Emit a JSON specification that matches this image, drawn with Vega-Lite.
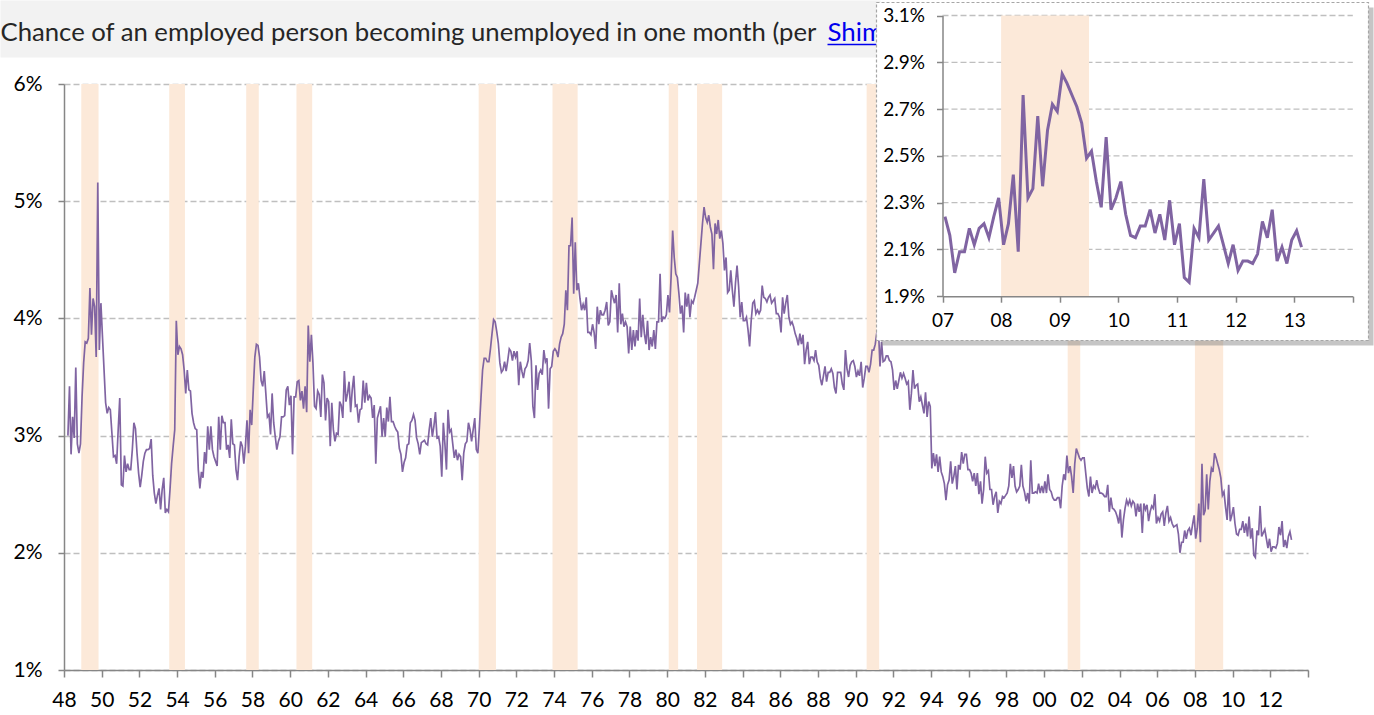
{
"$schema": "https://vega.github.io/schema/vega-lite/v6.json",
"background": "white",
"padding": 0,
"width": 1244,
"height": 586,
"config": {
  "view": {"stroke": null},
  "font": "Lato",
  "axis": {"labelFont": "Lato", "labelColor": "#000000", "domainColor": "#868686", "tickColor": "#868686", "domainWidth": 1.5, "tickWidth": 1.5, "labelFontWeight": "normal"}
},
"datasets": {
"rec": [{"s":1948.917,"e":1949.833},{"s":1953.583,"e":1954.417},{"s":1957.667,"e":1958.333},{"s":1960.333,"e":1961.167},{"s":1970.0,"e":1970.917},{"s":1973.917,"e":1975.25},{"s":1980.083,"e":1980.583},{"s":1981.583,"e":1982.917},{"s":1990.583,"e":1991.25},{"s":2001.25,"e":2001.917},{"s":2008.0,"e":2009.5}],
"u": [
{"t":1948.208,"v":3.00},{"t":1948.292,"v":3.42},{"t":1948.375,"v":2.84},{"t":1948.458,"v":3.16},{"t":1948.542,"v":2.98},{"t":1948.625,"v":3.58},{"t":1948.708,"v":2.93},{"t":1948.792,"v":2.85},{"t":1948.875,"v":2.93},{"t":1948.958,"v":3.33},
{"t":1949.042,"v":3.62},{"t":1949.125,"v":3.80},{"t":1949.208,"v":3.79},{"t":1949.292,"v":3.83},{"t":1949.375,"v":4.26},{"t":1949.458,"v":3.86},{"t":1949.542,"v":4.17},{"t":1949.625,"v":4.10},{"t":1949.708,"v":3.67},{"t":1949.792,"v":5.16},{"t":1949.875,"v":3.73},{"t":1949.958,"v":4.13},
{"t":1950.042,"v":3.84},{"t":1950.125,"v":3.56},{"t":1950.208,"v":3.28},{"t":1950.292,"v":3.19},{"t":1950.375,"v":3.24},{"t":1950.458,"v":3.22},{"t":1950.542,"v":3.02},{"t":1950.625,"v":2.82},{"t":1950.708,"v":2.83},{"t":1950.792,"v":2.76},{"t":1950.875,"v":3.05},{"t":1950.958,"v":3.32},
{"t":1951.042,"v":2.58},{"t":1951.125,"v":2.57},{"t":1951.208,"v":2.83},{"t":1951.292,"v":2.69},{"t":1951.375,"v":2.76},{"t":1951.458,"v":2.71},{"t":1951.542,"v":2.71},{"t":1951.625,"v":2.88},{"t":1951.708,"v":3.11},{"t":1951.792,"v":3.06},{"t":1951.875,"v":2.85},{"t":1951.958,"v":2.68},
{"t":1952.042,"v":2.56},{"t":1952.125,"v":2.66},{"t":1952.208,"v":2.78},{"t":1952.292,"v":2.85},{"t":1952.375,"v":2.88},{"t":1952.458,"v":2.88},{"t":1952.542,"v":2.89},{"t":1952.625,"v":2.97},{"t":1952.708,"v":2.66},{"t":1952.792,"v":2.51},{"t":1952.875,"v":2.42},{"t":1952.958,"v":2.49},
{"t":1953.042,"v":2.55},{"t":1953.125,"v":2.37},{"t":1953.208,"v":2.54},{"t":1953.292,"v":2.64},{"t":1953.375,"v":2.34},{"t":1953.458,"v":2.37},{"t":1953.542,"v":2.35},{"t":1953.625,"v":2.54},{"t":1953.708,"v":2.76},{"t":1953.792,"v":2.91},{"t":1953.875,"v":3.05},{"t":1953.958,"v":3.98},
{"t":1954.042,"v":3.69},{"t":1954.125,"v":3.76},{"t":1954.208,"v":3.74},{"t":1954.292,"v":3.69},{"t":1954.375,"v":3.56},{"t":1954.458,"v":3.36},{"t":1954.542,"v":3.56},{"t":1954.625,"v":3.39},{"t":1954.708,"v":3.38},{"t":1954.792,"v":3.19},{"t":1954.875,"v":3.11},{"t":1954.958,"v":3.06},
{"t":1955.042,"v":3.05},{"t":1955.125,"v":2.71},{"t":1955.208,"v":2.55},{"t":1955.292,"v":2.69},{"t":1955.375,"v":2.64},{"t":1955.458,"v":2.86},{"t":1955.542,"v":2.76},{"t":1955.625,"v":3.08},{"t":1955.708,"v":2.88},{"t":1955.792,"v":3.08},{"t":1955.875,"v":2.88},{"t":1955.958,"v":2.82},
{"t":1956.042,"v":2.78},{"t":1956.125,"v":2.74},{"t":1956.208,"v":3.16},{"t":1956.292,"v":2.88},{"t":1956.375,"v":3.17},{"t":1956.458,"v":3.11},{"t":1956.542,"v":3.11},{"t":1956.625,"v":2.88},{"t":1956.708,"v":2.92},{"t":1956.792,"v":2.81},{"t":1956.875,"v":3.14},{"t":1956.958,"v":2.93},
{"t":1957.042,"v":2.92},{"t":1957.125,"v":2.71},{"t":1957.208,"v":2.62},{"t":1957.292,"v":2.82},{"t":1957.375,"v":2.95},{"t":1957.458,"v":2.91},{"t":1957.542,"v":2.76},{"t":1957.625,"v":2.91},{"t":1957.708,"v":3.13},{"t":1957.792,"v":2.85},{"t":1957.875,"v":3.22},{"t":1957.958,"v":3.09},
{"t":1958.042,"v":3.39},{"t":1958.125,"v":3.67},{"t":1958.208,"v":3.78},{"t":1958.292,"v":3.77},{"t":1958.375,"v":3.67},{"t":1958.458,"v":3.47},{"t":1958.542,"v":3.42},{"t":1958.625,"v":3.55},{"t":1958.708,"v":3.36},{"t":1958.792,"v":3.16},{"t":1958.875,"v":3.18},{"t":1958.958,"v":3.01},
{"t":1959.042,"v":3.36},{"t":1959.125,"v":3.11},{"t":1959.208,"v":2.99},{"t":1959.292,"v":2.88},{"t":1959.375,"v":2.95},{"t":1959.458,"v":2.99},{"t":1959.542,"v":3.16},{"t":1959.625,"v":3.16},{"t":1959.708,"v":3.17},{"t":1959.792,"v":3.39},{"t":1959.875,"v":3.42},{"t":1959.958,"v":3.26},
{"t":1960.042,"v":3.34},{"t":1960.125,"v":2.84},{"t":1960.208,"v":3.33},{"t":1960.292,"v":3.33},{"t":1960.375,"v":3.46},{"t":1960.458,"v":3.47},{"t":1960.542,"v":3.30},{"t":1960.625,"v":3.38},{"t":1960.708,"v":3.23},{"t":1960.792,"v":3.42},{"t":1960.875,"v":3.20},{"t":1960.958,"v":3.94},
{"t":1961.042,"v":3.63},{"t":1961.125,"v":3.86},{"t":1961.208,"v":3.62},{"t":1961.292,"v":3.25},{"t":1961.375,"v":3.23},{"t":1961.458,"v":3.38},{"t":1961.542,"v":3.35},{"t":1961.625,"v":3.16},{"t":1961.708,"v":3.52},{"t":1961.792,"v":3.45},{"t":1961.875,"v":3.13},{"t":1961.958,"v":3.32},
{"t":1962.042,"v":3.29},{"t":1962.125,"v":2.91},{"t":1962.208,"v":3.28},{"t":1962.292,"v":3.05},{"t":1962.375,"v":2.95},{"t":1962.458,"v":3.02},{"t":1962.542,"v":3.01},{"t":1962.625,"v":3.29},{"t":1962.708,"v":3.26},{"t":1962.792,"v":3.15},{"t":1962.875,"v":3.55},{"t":1962.958,"v":3.29},
{"t":1963.042,"v":3.36},{"t":1963.125,"v":3.46},{"t":1963.208,"v":3.20},{"t":1963.292,"v":3.39},{"t":1963.375,"v":3.51},{"t":1963.458,"v":3.25},{"t":1963.542,"v":3.26},{"t":1963.625,"v":3.11},{"t":1963.708,"v":3.22},{"t":1963.792,"v":3.23},{"t":1963.875,"v":3.47},{"t":1963.958,"v":3.28},
{"t":1964.042,"v":3.45},{"t":1964.125,"v":3.30},{"t":1964.208,"v":3.34},{"t":1964.292,"v":3.32},{"t":1964.375,"v":3.15},{"t":1964.458,"v":3.26},{"t":1964.542,"v":2.76},{"t":1964.625,"v":3.15},{"t":1964.708,"v":3.20},{"t":1964.792,"v":3.25},{"t":1964.875,"v":2.99},{"t":1964.958,"v":3.15},
{"t":1965.042,"v":2.99},{"t":1965.125,"v":3.24},{"t":1965.208,"v":3.12},{"t":1965.292,"v":3.33},{"t":1965.375,"v":3.12},{"t":1965.458,"v":3.12},{"t":1965.542,"v":3.08},{"t":1965.625,"v":3.05},{"t":1965.708,"v":3.03},{"t":1965.792,"v":2.89},{"t":1965.875,"v":2.84},{"t":1965.958,"v":2.69},
{"t":1966.042,"v":2.77},{"t":1966.125,"v":2.81},{"t":1966.208,"v":2.92},{"t":1966.292,"v":2.93},{"t":1966.375,"v":3.11},{"t":1966.458,"v":3.13},{"t":1966.542,"v":3.18},{"t":1966.625,"v":3.13},{"t":1966.708,"v":2.98},{"t":1966.792,"v":2.93},{"t":1966.875,"v":2.84},{"t":1966.958,"v":2.94},
{"t":1967.042,"v":2.95},{"t":1967.125,"v":2.96},{"t":1967.208,"v":2.93},{"t":1967.292,"v":2.92},{"t":1967.375,"v":3.05},{"t":1967.458,"v":3.15},{"t":1967.542,"v":2.99},{"t":1967.625,"v":3.08},{"t":1967.708,"v":3.20},{"t":1967.792,"v":2.98},{"t":1967.875,"v":2.99},{"t":1967.958,"v":2.91},
{"t":1968.042,"v":2.65},{"t":1968.125,"v":3.11},{"t":1968.208,"v":2.93},{"t":1968.292,"v":2.71},{"t":1968.375,"v":3.22},{"t":1968.458,"v":3.03},{"t":1968.542,"v":3.05},{"t":1968.625,"v":2.93},{"t":1968.708,"v":2.81},{"t":1968.792,"v":2.88},{"t":1968.875,"v":2.79},{"t":1968.958,"v":2.84},
{"t":1969.042,"v":2.82},{"t":1969.125,"v":2.62},{"t":1969.208,"v":2.85},{"t":1969.292,"v":2.93},{"t":1969.375,"v":2.95},{"t":1969.458,"v":3.11},{"t":1969.542,"v":3.05},{"t":1969.625,"v":2.95},{"t":1969.708,"v":3.05},{"t":1969.792,"v":3.15},{"t":1969.875,"v":2.88},{"t":1969.958,"v":2.85},
{"t":1970.042,"v":3.08},{"t":1970.125,"v":3.33},{"t":1970.208,"v":3.56},{"t":1970.292,"v":3.66},{"t":1970.375,"v":3.66},{"t":1970.458,"v":3.63},{"t":1970.542,"v":3.63},{"t":1970.625,"v":3.74},{"t":1970.708,"v":3.87},{"t":1970.792,"v":3.99},{"t":1970.875,"v":3.97},{"t":1970.958,"v":3.89},
{"t":1971.042,"v":3.79},{"t":1971.125,"v":3.62},{"t":1971.208,"v":3.54},{"t":1971.292,"v":3.56},{"t":1971.375,"v":3.63},{"t":1971.458,"v":3.55},{"t":1971.542,"v":3.64},{"t":1971.625,"v":3.74},{"t":1971.708,"v":3.72},{"t":1971.792,"v":3.64},{"t":1971.875,"v":3.72},{"t":1971.958,"v":3.67},
{"t":1972.042,"v":3.72},{"t":1972.125,"v":3.43},{"t":1972.208,"v":3.63},{"t":1972.292,"v":3.55},{"t":1972.375,"v":3.49},{"t":1972.458,"v":3.57},{"t":1972.542,"v":3.59},{"t":1972.625,"v":3.64},{"t":1972.708,"v":3.79},{"t":1972.792,"v":3.64},{"t":1972.875,"v":3.25},{"t":1972.958,"v":3.15},
{"t":1973.042,"v":3.60},{"t":1973.125,"v":3.39},{"t":1973.208,"v":3.53},{"t":1973.292,"v":3.56},{"t":1973.375,"v":3.52},{"t":1973.458,"v":3.73},{"t":1973.542,"v":3.63},{"t":1973.625,"v":3.66},{"t":1973.708,"v":3.23},{"t":1973.792,"v":3.57},{"t":1973.875,"v":3.59},{"t":1973.958,"v":3.72},
{"t":1974.042,"v":3.74},{"t":1974.125,"v":3.72},{"t":1974.208,"v":3.67},{"t":1974.292,"v":3.78},{"t":1974.375,"v":3.84},{"t":1974.458,"v":3.87},{"t":1974.542,"v":3.95},{"t":1974.625,"v":4.24},{"t":1974.708,"v":4.07},{"t":1974.792,"v":4.62},{"t":1974.875,"v":4.62},{"t":1974.958,"v":4.86},
{"t":1975.042,"v":4.21},{"t":1975.125,"v":4.65},{"t":1975.208,"v":4.24},{"t":1975.292,"v":4.30},{"t":1975.375,"v":4.17},{"t":1975.458,"v":4.07},{"t":1975.542,"v":4.12},{"t":1975.625,"v":4.07},{"t":1975.708,"v":4.18},{"t":1975.792,"v":3.88},{"t":1975.875,"v":3.88},{"t":1975.958,"v":3.86},
{"t":1976.042,"v":3.95},{"t":1976.125,"v":3.88},{"t":1976.208,"v":3.74},{"t":1976.292,"v":4.10},{"t":1976.375,"v":3.95},{"t":1976.458,"v":4.07},{"t":1976.542,"v":4.03},{"t":1976.625,"v":4.03},{"t":1976.708,"v":4.07},{"t":1976.792,"v":4.14},{"t":1976.875,"v":3.94},{"t":1976.958,"v":3.97},
{"t":1977.042,"v":4.24},{"t":1977.125,"v":4.18},{"t":1977.208,"v":4.13},{"t":1977.292,"v":4.20},{"t":1977.375,"v":3.88},{"t":1977.458,"v":4.30},{"t":1977.542,"v":3.95},{"t":1977.625,"v":4.04},{"t":1977.708,"v":3.93},{"t":1977.792,"v":3.97},{"t":1977.875,"v":3.93},{"t":1977.958,"v":3.70},
{"t":1978.042,"v":3.93},{"t":1978.125,"v":3.73},{"t":1978.208,"v":3.90},{"t":1978.292,"v":3.76},{"t":1978.375,"v":3.90},{"t":1978.458,"v":3.81},{"t":1978.542,"v":4.17},{"t":1978.625,"v":3.84},{"t":1978.708,"v":4.03},{"t":1978.792,"v":3.87},{"t":1978.875,"v":3.78},{"t":1978.958,"v":3.98},
{"t":1979.042,"v":3.73},{"t":1979.125,"v":3.84},{"t":1979.208,"v":3.76},{"t":1979.292,"v":3.90},{"t":1979.375,"v":3.74},{"t":1979.458,"v":3.97},{"t":1979.542,"v":3.97},{"t":1979.625,"v":4.38},{"t":1979.708,"v":3.97},{"t":1979.792,"v":4.01},{"t":1979.875,"v":4.00},{"t":1979.958,"v":4.03},
{"t":1980.042,"v":4.20},{"t":1980.125,"v":4.05},{"t":1980.208,"v":4.35},{"t":1980.292,"v":4.75},{"t":1980.375,"v":4.52},{"t":1980.458,"v":4.38},{"t":1980.542,"v":4.35},{"t":1980.625,"v":4.21},{"t":1980.708,"v":4.04},{"t":1980.792,"v":4.11},{"t":1980.875,"v":3.88},{"t":1980.958,"v":4.22},
{"t":1981.042,"v":4.10},{"t":1981.125,"v":4.21},{"t":1981.208,"v":4.01},{"t":1981.292,"v":4.15},{"t":1981.375,"v":4.13},{"t":1981.458,"v":4.18},{"t":1981.542,"v":4.24},{"t":1981.625,"v":4.30},{"t":1981.708,"v":4.47},{"t":1981.792,"v":4.64},{"t":1981.875,"v":4.81},{"t":1981.958,"v":4.95},
{"t":1982.042,"v":4.86},{"t":1982.125,"v":4.82},{"t":1982.208,"v":4.88},{"t":1982.292,"v":4.78},{"t":1982.375,"v":4.72},{"t":1982.458,"v":4.42},{"t":1982.542,"v":4.81},{"t":1982.625,"v":4.72},{"t":1982.708,"v":4.84},{"t":1982.792,"v":4.68},{"t":1982.875,"v":4.75},{"t":1982.958,"v":4.64},
{"t":1983.042,"v":4.41},{"t":1983.125,"v":4.52},{"t":1983.208,"v":4.22},{"t":1983.292,"v":4.24},{"t":1983.375,"v":4.41},{"t":1983.458,"v":4.24},{"t":1983.542,"v":4.10},{"t":1983.625,"v":4.30},{"t":1983.708,"v":4.45},{"t":1983.792,"v":4.27},{"t":1983.875,"v":4.01},{"t":1983.958,"v":4.14},
{"t":1984.042,"v":3.98},{"t":1984.125,"v":3.98},{"t":1984.208,"v":4.01},{"t":1984.292,"v":3.90},{"t":1984.375,"v":3.76},{"t":1984.458,"v":3.98},{"t":1984.542,"v":4.13},{"t":1984.625,"v":4.15},{"t":1984.708,"v":4.04},{"t":1984.792,"v":4.07},{"t":1984.875,"v":4.04},{"t":1984.958,"v":4.07},
{"t":1985.042,"v":4.28},{"t":1985.125,"v":4.18},{"t":1985.208,"v":4.17},{"t":1985.292,"v":4.14},{"t":1985.375,"v":4.18},{"t":1985.458,"v":4.20},{"t":1985.542,"v":4.13},{"t":1985.625,"v":4.15},{"t":1985.708,"v":4.17},{"t":1985.792,"v":4.04},{"t":1985.875,"v":4.04},{"t":1985.958,"v":4.01},
{"t":1986.042,"v":3.88},{"t":1986.125,"v":4.18},{"t":1986.208,"v":4.04},{"t":1986.292,"v":4.13},{"t":1986.375,"v":4.20},{"t":1986.458,"v":4.01},{"t":1986.542,"v":3.95},{"t":1986.625,"v":3.97},{"t":1986.708,"v":3.93},{"t":1986.792,"v":3.87},{"t":1986.875,"v":3.83},{"t":1986.958,"v":3.77},
{"t":1987.042,"v":3.87},{"t":1987.125,"v":3.78},{"t":1987.208,"v":3.86},{"t":1987.292,"v":3.61},{"t":1987.375,"v":3.73},{"t":1987.458,"v":3.80},{"t":1987.542,"v":3.61},{"t":1987.625,"v":3.67},{"t":1987.708,"v":3.67},{"t":1987.792,"v":3.64},{"t":1987.875,"v":3.73},{"t":1987.958,"v":3.63},
{"t":1988.042,"v":3.60},{"t":1988.125,"v":3.49},{"t":1988.208,"v":3.43},{"t":1988.292,"v":3.51},{"t":1988.375,"v":3.59},{"t":1988.458,"v":3.46},{"t":1988.542,"v":3.54},{"t":1988.625,"v":3.54},{"t":1988.708,"v":3.57},{"t":1988.792,"v":3.53},{"t":1988.875,"v":3.41},{"t":1988.958,"v":3.36},
{"t":1989.042,"v":3.54},{"t":1989.125,"v":3.54},{"t":1989.208,"v":3.54},{"t":1989.292,"v":3.44},{"t":1989.375,"v":3.39},{"t":1989.458,"v":3.73},{"t":1989.542,"v":3.57},{"t":1989.625,"v":3.50},{"t":1989.708,"v":3.60},{"t":1989.792,"v":3.63},{"t":1989.875,"v":3.64},{"t":1989.958,"v":3.59},
{"t":1990.042,"v":3.50},{"t":1990.125,"v":3.55},{"t":1990.208,"v":3.51},{"t":1990.292,"v":3.63},{"t":1990.375,"v":3.41},{"t":1990.458,"v":3.49},{"t":1990.542,"v":3.59},{"t":1990.625,"v":3.59},{"t":1990.708,"v":3.54},{"t":1990.792,"v":3.61},{"t":1990.875,"v":3.73},{"t":1990.958,"v":3.73},
{"t":1991.042,"v":3.78},{"t":1991.125,"v":3.88},{"t":1991.208,"v":3.92},{"t":1991.292,"v":3.59},{"t":1991.375,"v":3.80},{"t":1991.458,"v":3.63},{"t":1991.542,"v":3.64},{"t":1991.625,"v":3.68},{"t":1991.708,"v":3.68},{"t":1991.792,"v":3.64},{"t":1991.875,"v":3.63},{"t":1991.958,"v":3.56},
{"t":1992.042,"v":3.39},{"t":1992.125,"v":3.47},{"t":1992.208,"v":3.40},{"t":1992.292,"v":3.47},{"t":1992.375,"v":3.54},{"t":1992.458,"v":3.49},{"t":1992.542,"v":3.53},{"t":1992.625,"v":3.49},{"t":1992.708,"v":3.44},{"t":1992.792,"v":3.46},{"t":1992.875,"v":3.22},{"t":1992.958,"v":3.36},
{"t":1993.042,"v":3.56},{"t":1993.125,"v":3.40},{"t":1993.208,"v":3.43},{"t":1993.292,"v":3.44},{"t":1993.375,"v":3.29},{"t":1993.458,"v":3.33},{"t":1993.542,"v":3.26},{"t":1993.625,"v":3.19},{"t":1993.708,"v":3.37},{"t":1993.792,"v":3.16},{"t":1993.875,"v":3.29},{"t":1993.958,"v":3.25},
{"t":1994.042,"v":2.72},{"t":1994.125,"v":2.85},{"t":1994.208,"v":2.74},{"t":1994.292,"v":2.84},{"t":1994.375,"v":2.69},{"t":1994.458,"v":2.82},{"t":1994.542,"v":2.69},{"t":1994.625,"v":2.65},{"t":1994.708,"v":2.59},{"t":1994.792,"v":2.45},{"t":1994.875,"v":2.58},{"t":1994.958,"v":2.62},
{"t":1995.042,"v":2.78},{"t":1995.125,"v":2.59},{"t":1995.208,"v":2.65},{"t":1995.292,"v":2.74},{"t":1995.375,"v":2.54},{"t":1995.458,"v":2.75},{"t":1995.542,"v":2.71},{"t":1995.625,"v":2.86},{"t":1995.708,"v":2.76},{"t":1995.792,"v":2.84},{"t":1995.875,"v":2.84},{"t":1995.958,"v":2.71},
{"t":1996.042,"v":2.71},{"t":1996.125,"v":2.68},{"t":1996.208,"v":2.61},{"t":1996.292,"v":2.68},{"t":1996.375,"v":2.57},{"t":1996.458,"v":2.68},{"t":1996.542,"v":2.50},{"t":1996.625,"v":2.61},{"t":1996.708,"v":2.42},{"t":1996.792,"v":2.54},{"t":1996.875,"v":2.82},{"t":1996.958,"v":2.68},
{"t":1997.042,"v":2.70},{"t":1997.125,"v":2.54},{"t":1997.208,"v":2.54},{"t":1997.292,"v":2.41},{"t":1997.375,"v":2.48},{"t":1997.458,"v":2.52},{"t":1997.542,"v":2.34},{"t":1997.625,"v":2.44},{"t":1997.708,"v":2.42},{"t":1997.792,"v":2.48},{"t":1997.875,"v":2.47},{"t":1997.958,"v":2.49},
{"t":1998.042,"v":2.51},{"t":1998.125,"v":2.57},{"t":1998.208,"v":2.76},{"t":1998.292,"v":2.64},{"t":1998.375,"v":2.74},{"t":1998.458,"v":2.57},{"t":1998.542,"v":2.52},{"t":1998.625,"v":2.54},{"t":1998.708,"v":2.57},{"t":1998.792,"v":2.75},{"t":1998.875,"v":2.57},{"t":1998.958,"v":2.52},
{"t":1999.042,"v":2.44},{"t":1999.125,"v":2.51},{"t":1999.208,"v":2.42},{"t":1999.292,"v":2.79},{"t":1999.375,"v":2.51},{"t":1999.458,"v":2.51},{"t":1999.542,"v":2.52},{"t":1999.625,"v":2.51},{"t":1999.708,"v":2.59},{"t":1999.792,"v":2.51},{"t":1999.875,"v":2.57},{"t":1999.958,"v":2.51},
{"t":2000.042,"v":2.61},{"t":2000.125,"v":2.51},{"t":2000.208,"v":2.67},{"t":2000.292,"v":2.54},{"t":2000.375,"v":2.52},{"t":2000.458,"v":2.47},{"t":2000.542,"v":2.45},{"t":2000.625,"v":2.45},{"t":2000.708,"v":2.47},{"t":2000.792,"v":2.47},{"t":2000.875,"v":2.38},{"t":2000.958,"v":2.57},
{"t":2001.042,"v":2.67},{"t":2001.125,"v":2.62},{"t":2001.208,"v":2.83},{"t":2001.292,"v":2.68},{"t":2001.375,"v":2.74},{"t":2001.458,"v":2.65},{"t":2001.542,"v":2.51},{"t":2001.625,"v":2.76},{"t":2001.708,"v":2.89},{"t":2001.792,"v":2.85},{"t":2001.875,"v":2.81},{"t":2001.958,"v":2.79},
{"t":2002.042,"v":2.81},{"t":2002.125,"v":2.81},{"t":2002.208,"v":2.68},{"t":2002.292,"v":2.55},{"t":2002.375,"v":2.48},{"t":2002.458,"v":2.65},{"t":2002.542,"v":2.51},{"t":2002.625,"v":2.57},{"t":2002.708,"v":2.55},{"t":2002.792,"v":2.62},{"t":2002.875,"v":2.55},{"t":2002.958,"v":2.51},
{"t":2003.042,"v":2.51},{"t":2003.125,"v":2.50},{"t":2003.208,"v":2.48},{"t":2003.292,"v":2.48},{"t":2003.375,"v":2.58},{"t":2003.458,"v":2.35},{"t":2003.542,"v":2.47},{"t":2003.625,"v":2.38},{"t":2003.708,"v":2.37},{"t":2003.792,"v":2.35},{"t":2003.875,"v":2.31},{"t":2003.958,"v":2.25},
{"t":2004.042,"v":2.37},{"t":2004.125,"v":2.13},{"t":2004.208,"v":2.28},{"t":2004.292,"v":2.38},{"t":2004.375,"v":2.45},{"t":2004.458,"v":2.41},{"t":2004.542,"v":2.45},{"t":2004.625,"v":2.40},{"t":2004.708,"v":2.44},{"t":2004.792,"v":2.42},{"t":2004.875,"v":2.31},{"t":2004.958,"v":2.42},
{"t":2005.042,"v":2.35},{"t":2005.125,"v":2.42},{"t":2005.208,"v":2.17},{"t":2005.292,"v":2.42},{"t":2005.375,"v":2.37},{"t":2005.458,"v":2.41},{"t":2005.542,"v":2.27},{"t":2005.625,"v":2.35},{"t":2005.708,"v":2.40},{"t":2005.792,"v":2.38},{"t":2005.875,"v":2.50},{"t":2005.958,"v":2.25},
{"t":2006.042,"v":2.30},{"t":2006.125,"v":2.27},{"t":2006.208,"v":2.33},{"t":2006.292,"v":2.35},{"t":2006.375,"v":2.23},{"t":2006.458,"v":2.34},{"t":2006.542,"v":2.40},{"t":2006.625,"v":2.27},{"t":2006.708,"v":2.30},{"t":2006.792,"v":2.25},{"t":2006.875,"v":2.22},{"t":2006.958,"v":2.23},
{"t":2007.042,"v":2.24},{"t":2007.125,"v":2.16},{"t":2007.208,"v":2.00},{"t":2007.292,"v":2.09},{"t":2007.375,"v":2.09},{"t":2007.458,"v":2.19},{"t":2007.542,"v":2.12},{"t":2007.625,"v":2.19},{"t":2007.708,"v":2.21},{"t":2007.792,"v":2.15},{"t":2007.875,"v":2.24},{"t":2007.958,"v":2.32},
{"t":2008.042,"v":2.12},{"t":2008.125,"v":2.21},{"t":2008.208,"v":2.42},{"t":2008.292,"v":2.09},{"t":2008.375,"v":2.76},{"t":2008.458,"v":2.32},{"t":2008.542,"v":2.36},{"t":2008.625,"v":2.67},{"t":2008.708,"v":2.37},{"t":2008.792,"v":2.61},{"t":2008.875,"v":2.72},{"t":2008.958,"v":2.69},
{"t":2009.042,"v":2.85},{"t":2009.125,"v":2.81},{"t":2009.208,"v":2.76},{"t":2009.292,"v":2.71},{"t":2009.375,"v":2.64},{"t":2009.458,"v":2.49},{"t":2009.542,"v":2.52},{"t":2009.625,"v":2.39},{"t":2009.708,"v":2.28},{"t":2009.792,"v":2.58},{"t":2009.875,"v":2.27},{"t":2009.958,"v":2.32},
{"t":2010.042,"v":2.39},{"t":2010.125,"v":2.25},{"t":2010.208,"v":2.16},{"t":2010.292,"v":2.15},{"t":2010.375,"v":2.20},{"t":2010.458,"v":2.20},{"t":2010.542,"v":2.27},{"t":2010.625,"v":2.17},{"t":2010.708,"v":2.25},{"t":2010.792,"v":2.14},{"t":2010.875,"v":2.31},{"t":2010.958,"v":2.12},
{"t":2011.042,"v":2.21},{"t":2011.125,"v":1.98},{"t":2011.208,"v":1.96},{"t":2011.292,"v":2.19},{"t":2011.375,"v":2.15},{"t":2011.458,"v":2.40},{"t":2011.542,"v":2.14},{"t":2011.625,"v":2.17},{"t":2011.708,"v":2.20},{"t":2011.792,"v":2.12},{"t":2011.875,"v":2.04},{"t":2011.958,"v":2.12},
{"t":2012.042,"v":2.01},{"t":2012.125,"v":2.05},{"t":2012.208,"v":2.05},{"t":2012.292,"v":2.04},{"t":2012.375,"v":2.08},{"t":2012.458,"v":2.22},{"t":2012.542,"v":2.15},{"t":2012.625,"v":2.27},{"t":2012.708,"v":2.05},{"t":2012.792,"v":2.11},{"t":2012.875,"v":2.04},{"t":2012.958,"v":2.14},
{"t":2013.042,"v":2.18},{"t":2013.125,"v":2.11}
]
},
"resolve": {"scale": {"x": "independent", "y": "independent"}, "axis": {"x": "independent", "y": "independent"}},
"layer": [
  {
    "layer": [
      {
        "data": {"values": [{}]},
        "mark": {"type": "rect", "fill": "#F2F2F2"},
        "encoding": {
          "x": {"datum": 1944.631, "type": "quantitative",
                "scale": {"domain": [1948, 2014], "nice": false, "zero": false},
                "axis": {"orient": "bottom", "values": [1948,1950,1952,1954,1956,1958,1960,1962,1964,1966,1968,1970,1972,1974,1976,1978,1980,1982,1984,1986,1988,1990,1992,1994,1996,1998,2000,2002,2004,2006,2008,2010,2012,2014],
                         "tickCount": 60,
                         "labelExpr": "datum.value == 2014 ? '' : substring(toString(datum.value), 2)",
                         "grid": false, "tickSize": 7, "labelPadding": 12, "labelFontSize": 21, "title": null, "labelFlush": false, "labelOverlap": false}},
          "x2": {"datum": 1991.32},
          "y": {"datum": 6.7125, "type": "quantitative",
                "scale": {"domain": [1, 6], "nice": false, "zero": false},
                "axis": {"orient": "left", "values": [1,2,3,4,5,6], "tickCount": 10, "labelExpr": "datum.value + '%'",
                         "grid": true, "gridDash": [6,3], "gridColor": "#BFBFBF", "gridWidth": 1.3,
                         "tickSize": 6, "labelPadding": 16, "labelFontSize": 21, "title": null}},
          "y2": {"datum": 6.2261}
        }
      },
      {
        "data": {"values": [{}]},
        "mark": {"type": "text", "text": "Chance of an employed person becoming unemployed in one month (per ", "align": "left", "baseline": "alphabetic", "font": "Lato", "fontSize": 25.7, "color": "#262626"},
        "encoding": {
          "x": {"datum": 1944.631, "type": "quantitative"},
          "y": {"datum": 6.3711, "type": "quantitative"}
        }
      },
      {
        "data": {"values": [{}]},
        "mark": {"type": "text", "text": "Shim", "align": "left", "baseline": "alphabetic", "font": "Lato", "fontSize": 25.9, "color": "#0000EE"},
        "encoding": {
          "x": {"datum": 1988.508, "type": "quantitative"},
          "y": {"datum": 6.3711, "type": "quantitative"}
        }
      },
      {
        "data": {"values": [{}]},
        "mark": {"type": "rule", "color": "#0000EE", "strokeWidth": 1.5},
        "encoding": {
          "x": {"datum": 1988.508, "type": "quantitative"},
          "x2": {"datum": 1991.107},
          "y": {"datum": 6.3370, "type": "quantitative"}
        }
      },
      {
        "data": {"name": "rec"},
        "mark": {"type": "rect", "color": "#FCE9D9"},
        "encoding": {
          "x": {"field": "s", "type": "quantitative", "title": null},
          "x2": {"field": "e"}
        }
      },
      {
        "data": {"name": "u"},
        "mark": {"type": "line", "color": "#8064A2", "strokeWidth": 1.7},
        "encoding": {
          "x": {"field": "t", "type": "quantitative", "title": null},
          "y": {"field": "v", "type": "quantitative", "title": null}
        }
      }
    ]
  },
  {
    "layer": [
      {
        "data": {"values": [{}]},
        "mark": {"type": "rect", "fill": "#7F7F7F", "opacity": 0.45},
        "encoding": {
          "x": {"datum": 2005.959, "type": "quantitative",
                "scale": {"domain": [2007, 2014], "range": [878.5, 1288.8], "nice": false, "zero": false},
                "axis": {"orient": "bottom", "offset": -373.8, "values": [2007,2008,2009,2010,2011,2012,2013,2014], "tickCount": 20,
                         "labelExpr": "datum.value == 2014 ? '' : substring(toString(datum.value), 2)",
                         "grid": false, "tickSize": 6, "labelPadding": 9, "labelFontSize": 19, "title": null, "labelFlush": false, "labelOverlap": false, "zindex": 1}},
          "x2": {"datum": 2014.353},
          "y": {"datum": 3.1342, "type": "quantitative",
                "scale": {"domain": [1.9, 3.1], "range": [212.2, -68.5], "nice": false, "zero": false},
                "axis": {"orient": "left", "offset": -878.5, "values": [1.9,2.1,2.3,2.5,2.7,2.9,3.1], "tickCount": 20, "labelExpr": "format(datum.value, '.1f') + '%'",
                         "grid": false, "tickSize": 6, "labelPadding": 12, "labelFontSize": 19, "title": null, "zindex": 1}},
          "y2": {"datum": 1.6892}
        }
      },
      {
        "data": {"values": [{}]},
        "mark": {"type": "rect", "fill": "white", "stroke": "#A6A6A6", "strokeDash": [3,2], "strokeWidth": 1.2},
        "encoding": {
          "x": {"datum": 2005.874, "type": "quantitative"},
          "x2": {"datum": 2014.268},
          "y": {"datum": 3.1556, "type": "quantitative"},
          "y2": {"datum": 1.7106}
        }
      },
      {
        "data": {"values": [{"g": 2.1},{"g": 2.3},{"g": 2.5},{"g": 2.7},{"g": 2.9},{"g": 3.1}]},
        "mark": {"type": "rule", "color": "#BFBFBF", "strokeDash": [6,3], "strokeWidth": 1.3},
        "encoding": {
          "x": {"datum": 2007, "type": "quantitative"},
          "x2": {"datum": 2014},
          "y": {"field": "g", "type": "quantitative", "title": null}
        }
      },
      {
        "data": {"name": "rec"},
        "transform": [{"filter": "datum.s >= 2007"}],
        "mark": {"type": "rect", "color": "#FCE9D9"},
        "encoding": {
          "x": {"field": "s", "type": "quantitative", "title": null},
          "x2": {"field": "e"},
          "y": {"datum": 3.1, "type": "quantitative"},
          "y2": {"datum": 1.9}
        }
      },
      {
        "data": {"name": "u"},
        "transform": [{"filter": "datum.t >= 2007"}],
        "mark": {"type": "line", "color": "#8064A2", "strokeWidth": 3},
        "encoding": {
          "x": {"field": "t", "type": "quantitative", "title": null},
          "y": {"field": "v", "type": "quantitative", "title": null}
        }
      }
    ]
  }
]
}
